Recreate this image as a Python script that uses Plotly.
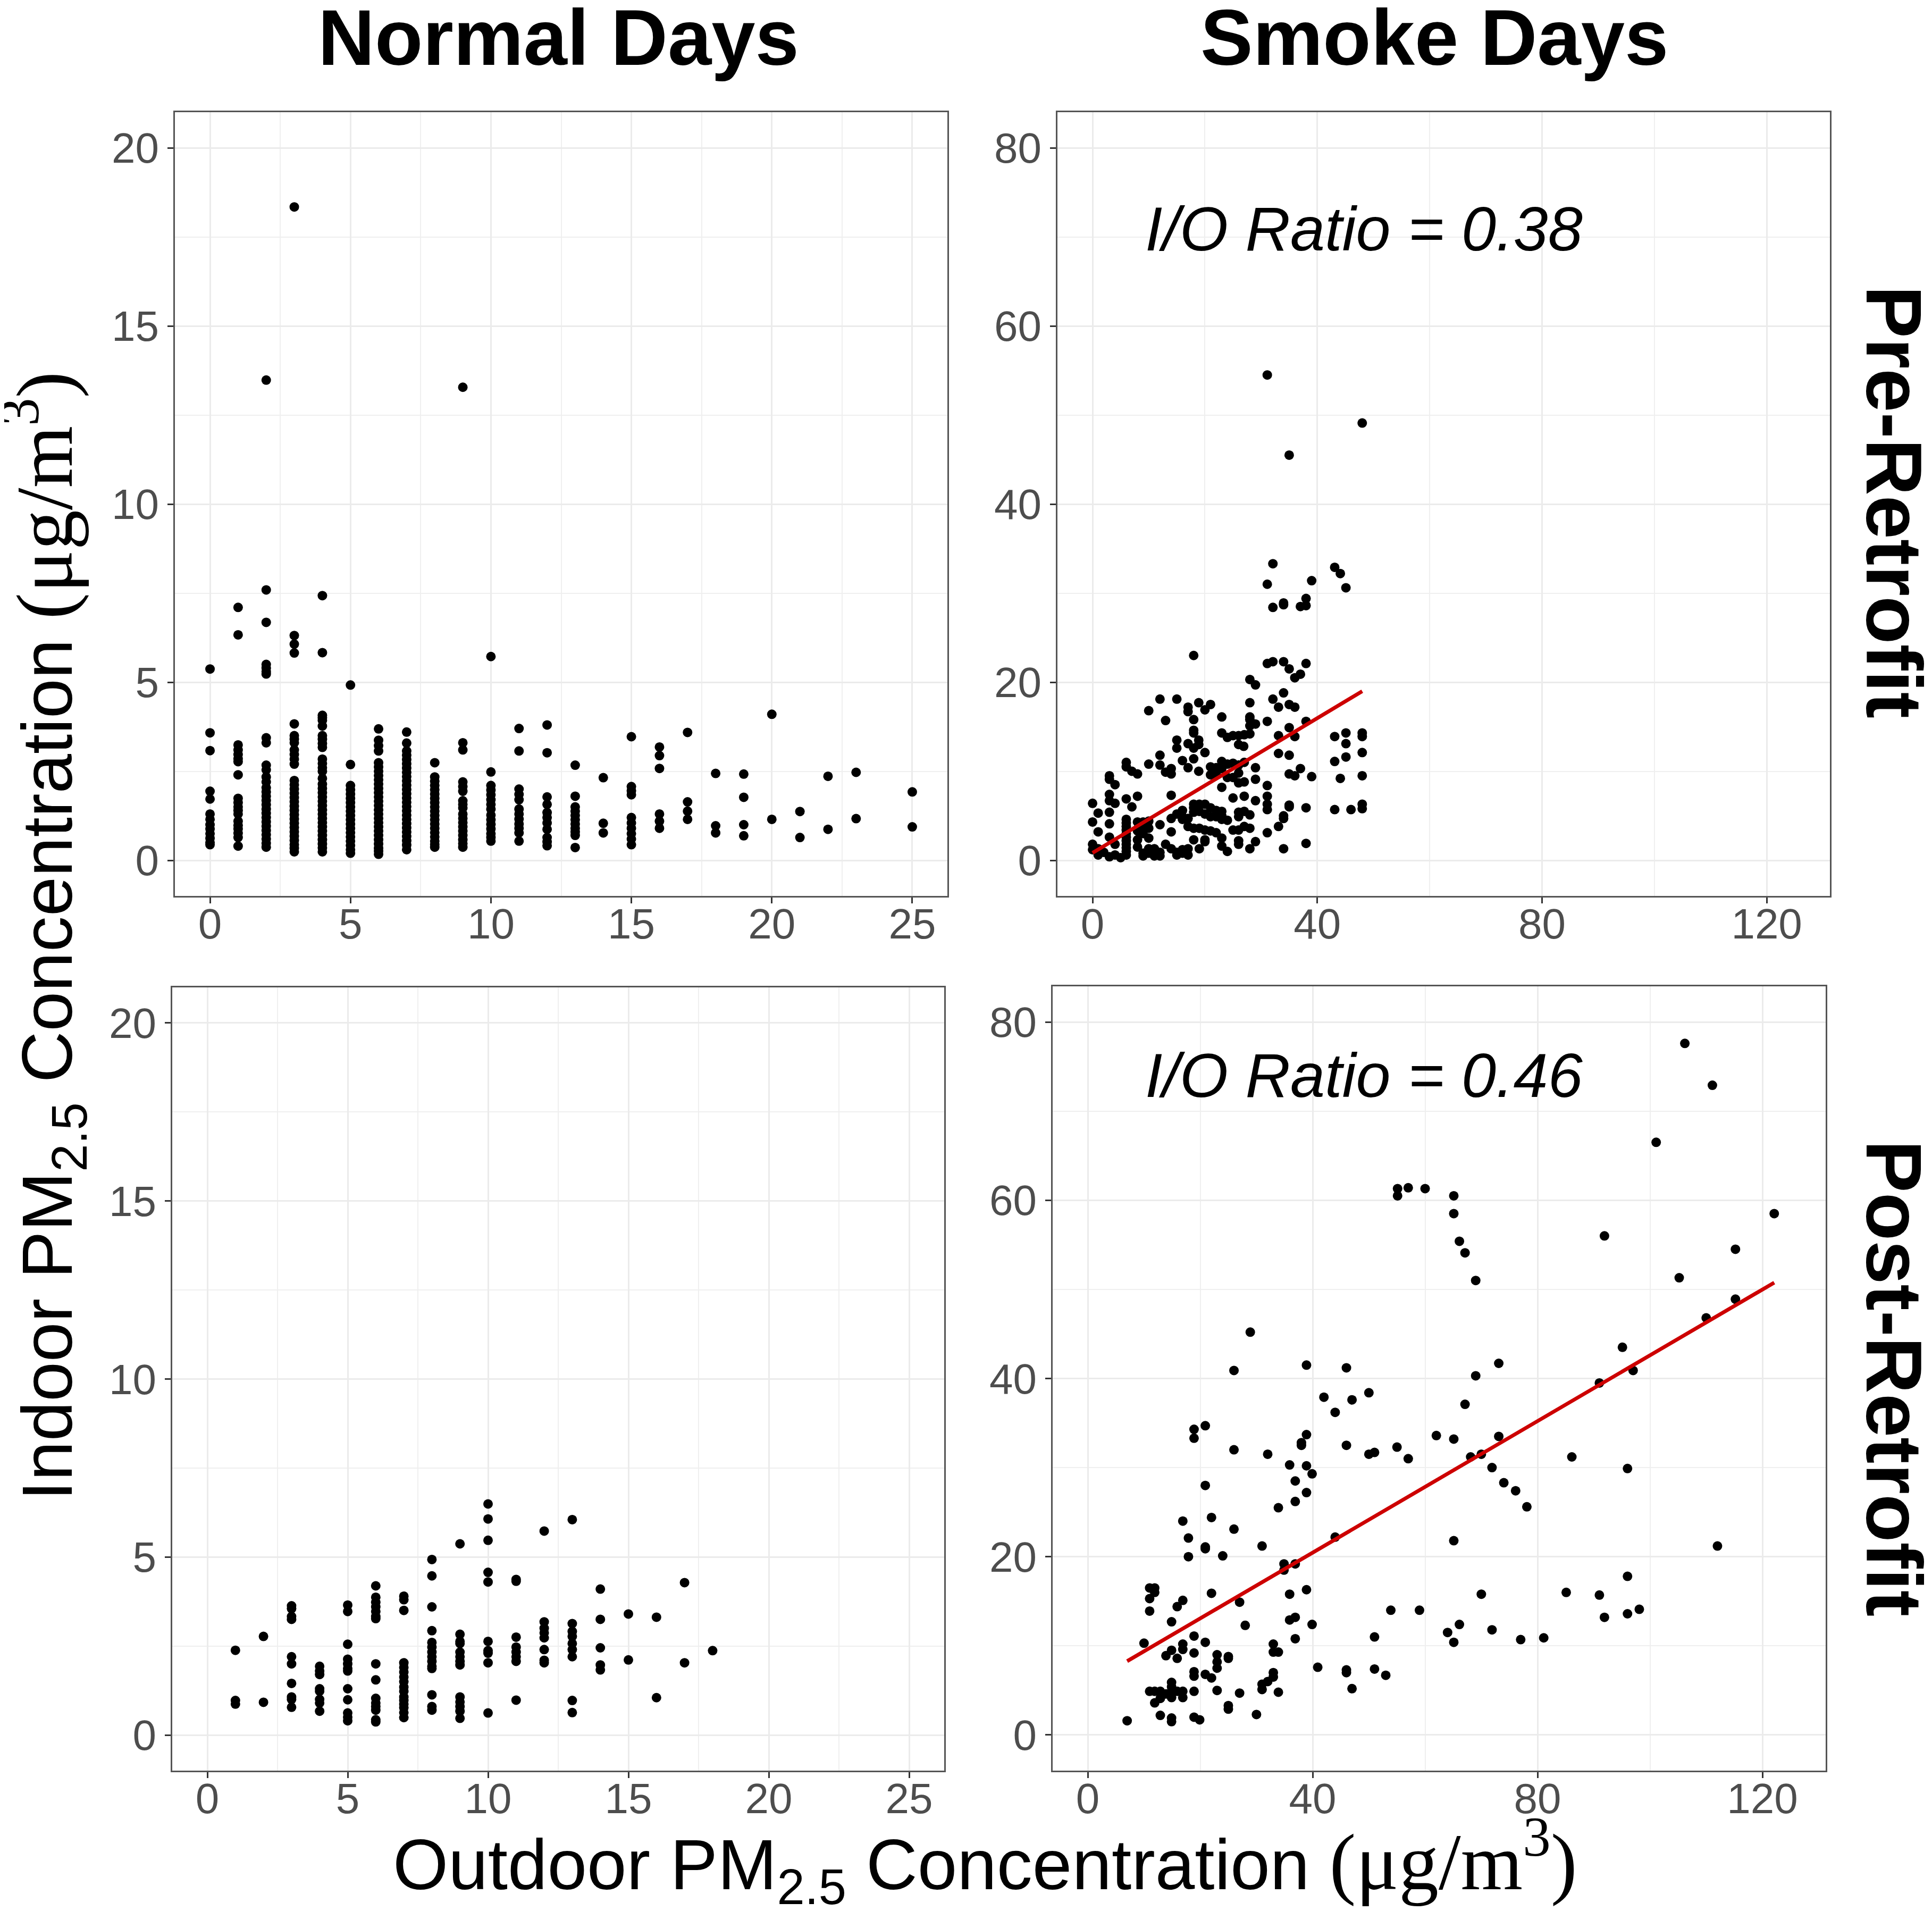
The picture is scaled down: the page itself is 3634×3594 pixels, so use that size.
import plotly.graph_objects as go

W, H = 3634, 3594

# ---------------- data ----------------
# Normal days, pre-retrofit: outdoor value -> indoor values
pre_normal = {
    0: [5.37, 3.58, 3.08, 1.94, 1.72, 1.30, 1.15, 1.0, 0.88, 0.75, 0.62, 0.5, 0.44],
    1: [7.10, 6.33, 3.24, 3.10, 2.97, 2.85, 2.77, 2.40, 1.74, 1.62, 1.50, 1.40, 1.30, 1.10, 0.98, 0.88, 0.76, 0.64, 0.40],
    2: [13.48, 7.59, 6.68, 5.50, 5.40, 5.30, 5.23, 3.44, 3.30, 2.67, 2.54, 2.34, 2.20, 2.04, 1.92, 1.80, 1.68, 1.56,
        1.44, 1.32, 1.20, 1.08, 0.96, 0.84, 0.72, 0.60, 0.48, 0.37],
    3: [18.34, 6.31, 6.07, 5.82, 3.83, 3.50, 3.40, 3.30, 3.10, 2.97, 2.84, 2.70, 2.24, 2.12, 2.0, 1.88, 1.76, 1.64,
        1.52, 1.40, 1.28, 1.16, 1.04, 0.92, 0.80, 0.68, 0.56, 0.44, 0.34, 0.24],
    4: [7.43, 5.83, 4.07, 4.00, 3.93, 3.77, 3.50, 3.40, 3.28, 3.17, 2.84, 2.72, 2.60, 2.50, 2.30, 2.14, 2.02, 1.90,
        1.78, 1.66, 1.54, 1.42, 1.30, 1.18, 1.06, 0.94, 0.82, 0.70, 0.58, 0.46, 0.35, 0.24],
    5: [4.92, 2.69, 2.10, 1.98, 1.86, 1.74, 1.62, 1.50, 1.38, 1.26, 1.14, 1.02, 0.90, 0.78, 0.66, 0.54, 0.42, 0.30, 0.20],
    6: [3.69, 3.37, 3.22, 3.07, 2.74, 2.62, 2.50, 2.38, 2.26, 2.14, 2.02, 1.90, 1.78, 1.66, 1.54, 1.42, 1.30, 1.18,
        1.06, 0.94, 0.82, 0.70, 0.58, 0.46, 0.34, 0.26, 0.17],
    7: [3.60, 3.29, 3.07, 2.95, 2.83, 2.71, 2.59, 2.47, 2.35, 2.23, 2.11, 1.99, 1.87, 1.75, 1.63, 1.51, 1.39, 1.27,
        1.15, 1.03, 0.91, 0.79, 0.67, 0.55, 0.43, 0.30],
    8: [2.74, 2.34, 2.22, 2.10, 1.98, 1.86, 1.74, 1.62, 1.50, 1.38, 1.26, 1.14, 1.02, 0.90, 0.78, 0.66, 0.54, 0.45, 0.37],
    9: [13.28, 3.30, 3.10, 2.20, 2.07, 1.94, 1.67, 1.57, 1.47, 1.30, 1.18, 1.06, 0.94, 0.82, 0.70, 0.58, 0.47, 0.37],
    10: [5.72, 2.48, 2.10, 1.97, 1.84, 1.70, 1.57, 1.44, 1.27, 1.14, 1.01, 0.88, 0.75, 0.64, 0.54],
    11: [3.70, 3.07, 2.00, 1.85, 1.70, 1.44, 1.30, 1.16, 1.02, 0.90, 0.77, 0.54],
    12: [3.80, 3.02, 1.78, 1.57, 1.34, 1.20, 1.05, 0.87, 0.64, 0.52, 0.41],
    13: [2.67, 1.80, 1.50, 1.38, 1.26, 1.14, 1.02, 0.90, 0.80, 0.70, 0.36],
    14: [2.32, 1.04, 0.77],
    15: [3.47, 2.07, 1.95, 1.84, 1.20, 1.05, 0.90, 0.75, 0.60, 0.44],
    16: [3.18, 2.94, 2.58, 1.30, 1.10, 0.90],
    17: [3.59, 1.64, 1.38, 1.15],
    18: [2.44, 0.97, 0.77],
    19: [2.42, 1.77, 1.00, 0.69],
    20: [4.10, 1.15],
    21: [1.37, 0.64],
    22: [2.36, 0.87],
    23: [2.47, 1.17],
    25: [1.92, 0.94],
}

# Normal days, post-retrofit
post_normal = {
    1: [2.38, 0.97, 0.87],
    2: [2.77, 0.92],
    3: [3.63, 3.55, 3.33, 3.25, 2.20, 2.00, 1.45, 1.07, 1.00, 0.78],
    4: [1.93, 1.80, 1.70, 1.30, 1.23, 1.00, 0.90, 0.67],
    5: [3.65, 3.47, 2.55, 2.13, 2.00, 1.87, 1.80, 1.30, 0.99, 0.62, 0.50, 0.40],
    6: [4.19, 3.87, 3.73, 3.60, 3.47, 3.33, 3.27, 2.00, 1.55, 1.03, 0.90, 0.80, 0.70, 0.43, 0.37],
    7: [3.90, 3.80, 3.50, 2.03, 1.90, 1.77, 1.63, 1.50, 1.35, 1.23, 1.07, 0.97, 0.87, 0.77, 0.63, 0.49],
    8: [4.93, 4.47, 3.60, 2.93, 2.60, 2.47, 2.33, 2.20, 2.07, 1.93, 1.87, 1.13, 0.80, 0.70],
    9: [5.37, 2.83, 2.63, 2.57, 2.33, 2.20, 2.07, 1.97, 1.07, 0.93, 0.80, 0.67, 0.47],
    10: [6.49, 6.07, 5.47, 4.57, 4.30, 2.63, 2.37, 2.30, 2.03, 0.62],
    11: [4.37, 4.32, 2.75, 2.47, 2.33, 2.20, 2.07, 0.98],
    12: [5.73, 3.18, 3.00, 2.87, 2.73, 2.40, 2.10, 2.03],
    13: [6.05, 3.13, 2.91, 2.77, 2.57, 2.40, 2.20, 0.97, 0.63],
    14: [4.10, 3.25, 2.45, 1.97, 1.83],
    15: [3.40, 2.11],
    16: [3.31, 1.05],
    17: [4.28, 2.03],
    18: [2.37],
}

# Smoke days, pre-retrofit: (outdoor, indoor)
pre_smoke = [
    (31.1, 54.5), (48.0, 49.1), (35.0, 45.5), (32.1, 33.3), (31.1, 31.0), (43.1, 32.9), (44.1, 32.2), (45.1, 30.6),
    (39.0, 31.4), (32.1, 28.4), (34.0, 28.9), (34.0, 28.7), (37.0, 28.5), (38.0, 28.6), (38.0, 29.4), (18.0, 23.0),
    (31.1, 22.1), (32.1, 22.3), (34.0, 22.3), (35.0, 21.5), (36.0, 20.5), (37.0, 20.9), (38.0, 22.1), (28.0, 20.3),
    (29.0, 19.7), (34.0, 18.8), (32.1, 18.1), (33.1, 17.2), (35.0, 17.5), (36.0, 17.2), (28.0, 17.7), (28.0, 16.1),
    (28.0, 15.8), (29.0, 15.3), (28.0, 15.1), (31.1, 15.6), (38.0, 15.6), (33.1, 14.0), (35.0, 14.9), (36.0, 13.9),
    (33.1, 12.0), (35.0, 11.8), (35.0, 9.7), (36.0, 9.5), (37.0, 10.3), (39.0, 9.4), (31.1, 8.4), (31.1, 7.2),
    (31.1, 6.3), (31.1, 5.7), (35.0, 6.2), (35.0, 6.0), (38.0, 5.9), (34.0, 4.7), (34.0, 5.0), (33.1, 3.8),
    (31.1, 3.1), (34.0, 1.3), (38.0, 1.9), (43.1, 13.9), (43.1, 11.1), (43.1, 5.7), (44.1, 9.2), (45.1, 14.3),
    (45.1, 13.1), (45.1, 11.6), (46.0, 5.7), (48.0, 14.3), (48.0, 13.9), (48.0, 12.1), (48.0, 9.5), (48.0, 6.3),
    (48.0, 5.8), (12.0, 18.1), (15.0, 18.1), (10.0, 16.8), (13.0, 15.7), (17.0, 17.2), (17.0, 16.7), (18.9, 17.7),
    (20.0, 16.9), (21.0, 17.5), (18.0, 15.8), (23.0, 16.1), (18.0, 14.6), (18.0, 14.3), (23.0, 14.3), (24.0, 13.8),
    (25.0, 14.0), (26.0, 14.0), (27.0, 14.1), (28.0, 14.2), (15.0, 13.5), (15.0, 12.6), (17.0, 13.1), (18.0, 12.6),
    (18.9, 13.5), (18.9, 13.0), (26.0, 13.0), (26.9, 12.8), (20.0, 12.1), (12.0, 11.8), (12.0, 10.7), (16.0, 11.2),
    (18.0, 11.4), (17.0, 10.4), (18.9, 10.0), (14.0, 10.3), (13.0, 9.9), (14.0, 9.7), (10.0, 10.8), (6.0, 11.0),
    (6.0, 10.5), (7.0, 10.0), (8.0, 9.7), (21.0, 10.5), (22.0, 10.4), (23.0, 11.1), (24.0, 10.8), (25.0, 10.9),
    (21.0, 9.6), (22.0, 9.6), (23.0, 10.3), (24.0, 9.3), (25.0, 9.3), (26.0, 10.7), (27.0, 11.0), (29.0, 10.4),
    (26.0, 9.8), (27.0, 8.8), (29.0, 9.1), (23.0, 8.2), (25.0, 7.0), (26.0, 8.7), (27.0, 7.2), (29.0, 6.7),
    (3.0, 9.5), (3.0, 9.1), (4.0, 8.5), (3.0, 7.4), (3.0, 6.7), (4.0, 6.4), (3.0, 5.4), (6.0, 6.9), (7.0, 6.0),
    (8.0, 7.2), (14.0, 7.3), (0.0, 6.4), (0.0, 4.3), (0.0, 1.8), (0.0, 1.2), (1.0, 5.3), (1.0, 3.2), (3.0, 4.1),
    (3.0, 2.6), (4.0, 1.8), (1.0, 1.3), (1.0, 0.6), (2.0, 0.9), (3.0, 0.4), (4.0, 0.6), (5.0, 0.3),
    (6.0, 4.6), (6.0, 4.2), (6.0, 3.8), (6.0, 3.4), (6.0, 3.0), (6.0, 2.6), (6.0, 2.2), (6.0, 1.8), (6.0, 1.4),
    (6.0, 1.0), (6.0, 0.6), (8.0, 4.3), (8.0, 3.3), (8.0, 2.3), (8.0, 1.5), (9.0, 4.3), (9.0, 3.8), (9.0, 3.0),
    (9.0, 0.8), (9.0, 0.5), (10.0, 4.4), (10.0, 3.6), (10.0, 2.5), (10.0, 1.3), (10.0, 0.8), (11.0, 1.3),
    (11.0, 0.5), (12.0, 4.0), (12.0, 0.9), (12.0, 0.5), (13.0, 1.8), (14.0, 1.3), (15.0, 0.9), (16.0, 1.2),
    (17.0, 1.3), (15.0, 0.6), (16.0, 0.8), (17.0, 0.6), (14.0, 4.7), (14.0, 3.2), (15.0, 5.2), (16.0, 4.9),
    (17.0, 4.7), (16.0, 5.6), (16.0, 4.6), (18.0, 6.3), (18.0, 5.9), (19.0, 6.3), (20.0, 6.3), (21.0, 5.9),
    (22.0, 5.6), (23.0, 5.5), (18.0, 5.4), (19.0, 5.5), (20.0, 5.2), (21.0, 4.9), (22.0, 4.9), (23.0, 4.6),
    (17.0, 3.8), (18.0, 3.6), (19.0, 3.6), (20.0, 3.4), (21.0, 3.3), (22.0, 3.1), (24.0, 4.5), (23.0, 5.0),
    (18.0, 2.3), (20.0, 2.1), (20.0, 2.3), (19.0, 1.3), (23.0, 2.5), (23.0, 1.6), (24.0, 1.0), (25.0, 3.4),
    (26.0, 3.4), (27.0, 3.8), (28.0, 3.6), (26.0, 5.4), (26.0, 4.9), (27.0, 5.5), (28.0, 5.1), (26.0, 2.2),
    (26.0, 1.8), (28.0, 1.3), (29.0, 2.1),
]

# Smoke days, post-retrofit: (outdoor, indoor)
post_smoke = [
    (106.2, 77.6), (111.1, 72.9), (101.1, 66.5), (122.1, 58.5), (55.1, 61.3), (55.1, 60.5), (57.0, 61.4),
    (60.0, 61.3), (65.1, 60.5), (65.1, 58.5), (66.1, 55.4), (67.1, 54.1), (69.0, 51.0), (91.9, 56.0),
    (115.2, 54.5), (105.2, 51.3), (115.2, 48.9), (110.0, 46.8), (95.1, 43.5), (97.0, 40.9), (91.0, 39.5),
    (73.1, 41.7), (69.0, 40.3), (67.1, 37.1), (28.9, 45.2), (26.0, 40.9), (38.9, 41.5), (46.0, 41.2),
    (42.0, 37.9), (47.0, 37.6), (50.0, 38.4), (44.0, 36.2), (62.0, 33.6), (65.1, 33.2), (73.1, 33.5),
    (18.9, 34.3), (18.9, 33.3), (20.9, 34.7), (26.0, 32.0), (46.0, 32.5), (55.0, 32.3), (57.0, 31.0),
    (32.0, 31.5), (50.0, 31.5), (51.0, 31.7), (68.1, 31.2), (70.0, 31.5), (86.1, 31.2), (71.9, 30.0),
    (96.0, 29.9), (74.0, 28.3), (76.1, 27.4), (78.1, 25.6), (38.0, 32.5), (38.0, 32.8), (38.9, 33.7),
    (35.9, 30.3), (38.9, 30.2), (39.9, 29.3), (36.9, 28.5), (38.9, 27.2), (36.9, 26.2), (33.9, 25.5),
    (20.9, 28.0), (22.0, 24.4), (16.9, 24.0), (17.9, 22.1), (17.9, 20.0), (20.9, 21.1), (20.9, 20.9),
    (24.0, 20.1), (26.0, 23.1), (31.0, 21.2), (44.0, 22.2), (34.9, 19.2), (34.9, 18.5), (36.9, 19.2),
    (65.1, 21.8), (38.9, 16.3), (35.9, 15.8), (22.0, 15.9), (27.0, 14.9), (11.0, 16.5), (11.9, 16.5),
    (11.9, 16.0), (11.0, 15.3), (11.0, 13.9), (16.9, 15.1), (15.9, 14.4), (14.9, 12.7), (28.0, 12.3),
    (35.9, 12.9), (36.9, 13.2), (39.9, 12.4), (36.9, 10.8), (70.0, 15.8), (53.9, 14.0), (59.0, 14.0),
    (64.0, 11.5), (65.1, 10.4), (66.1, 12.4), (71.9, 11.8), (77.0, 10.7), (81.1, 10.9), (85.1, 16.0),
    (91.0, 15.7), (91.9, 13.2), (96.0, 17.8), (96.0, 13.6), (98.1, 14.1), (112.0, 21.2), (51.0, 11.0),
    (10.0, 10.3), (13.9, 8.9), (14.9, 9.5), (16.9, 10.2), (16.9, 9.6), (15.9, 8.6), (18.9, 11.1), (18.9, 9.2),
    (20.9, 10.4), (23.0, 9.0), (25.0, 8.8), (25.0, 8.6), (23.0, 8.2), (23.0, 7.5), (18.9, 7.1), (18.9, 6.6),
    (20.9, 6.8), (22.0, 6.4), (23.0, 5.0), (18.9, 4.9), (33.0, 10.2), (33.0, 9.3), (33.9, 9.3), (33.0, 7.0),
    (33.0, 6.5), (32.0, 6.0), (31.0, 5.7), (31.0, 5.1), (33.9, 4.8), (27.0, 4.7), (25.0, 3.3), (25.0, 2.9),
    (30.0, 2.3), (40.9, 7.6), (46.0, 7.3), (46.0, 7.0), (47.0, 5.2), (51.0, 7.4), (53.0, 6.7), (11.0, 4.9),
    (11.9, 4.9), (12.9, 4.9), (13.9, 4.6), (14.9, 4.9), (15.9, 4.9), (16.9, 4.9), (11.9, 3.6), (12.9, 4.1),
    (14.9, 5.9), (14.9, 5.4), (14.9, 4.2), (14.9, 4.7), (16.9, 4.2), (12.9, 2.2), (14.9, 1.9), (14.9, 1.5),
    (18.9, 2.0), (19.9, 1.7), (7.0, 1.6),
]

# Linear fits (intercept, slope, x-extent)
pre_fit = dict(intercept=0.84, slope=0.378, x=[0.0, 48.0])
post_fit = dict(intercept=5.7, slope=0.369, x=[7.0, 122.1])

col_titles = ["Normal Days", "Smoke Days"]
row_titles = ["Pre-Retrofit", "Post-Retrofit"]
ratio_labels = ["I/O Ratio = 0.38", "I/O Ratio = 0.46"]

normal_xticks = [0, 5, 10, 15, 20, 25]
normal_yticks = [0, 5, 10, 15, 20]
smoke_xticks = [0, 40, 80, 120]
smoke_yticks = [0, 20, 40, 60, 80]

# ---------------- figure ----------------
def flat(d):
    xs, ys = [], []
    for k, vals in d.items():
        for v in vals:
            xs.append(k)
            ys.append(v)
    return xs, ys

fig = go.Figure()
MS = 18
mk = dict(color="black", size=MS, line=dict(width=0))

x1, y1 = flat(pre_normal)
fig.add_trace(go.Scatter(x=x1, y=y1, mode="markers", marker=mk, xaxis="x", yaxis="y"))
x2 = [p[0] for p in pre_smoke]; y2 = [p[1] for p in pre_smoke]
fig.add_trace(go.Scatter(x=x2, y=y2, mode="markers", marker=mk, xaxis="x2", yaxis="y2"))
x3, y3 = flat(post_normal)
fig.add_trace(go.Scatter(x=x3, y=y3, mode="markers", marker=mk, xaxis="x3", yaxis="y3"))
x4 = [p[0] for p in post_smoke]; y4 = [p[1] for p in post_smoke]
fig.add_trace(go.Scatter(x=x4, y=y4, mode="markers", marker=mk, xaxis="x4", yaxis="y4"))

for fit, xa, ya in [(pre_fit, "x2", "y2"), (post_fit, "x4", "y4")]:
    fy = [fit["intercept"] + fit["slope"] * v for v in fit["x"]]
    fig.add_trace(go.Scatter(x=fit["x"], y=fy, mode="lines",
                             line=dict(color="#CD0000", width=7), xaxis=xa, yaxis=ya))

def px_dom_x(a, b):
    return [a / W, b / W]

def px_dom_y(top, bottom):
    return [1 - bottom / H, 1 - top / H]

tickfont = dict(family="Liberation Sans, Arial, sans-serif", size=80, color="#4D4D4D")
common = dict(showline=True, mirror=True, linecolor="#555555", linewidth=3,
              ticks="outside", ticklen=11, tickwidth=3, tickcolor="#333333",
              showgrid=True, gridcolor="#EBEBEB", gridwidth=3, zeroline=False,
              tickfont=tickfont)

def ax(rng, tv, minor_dt, dom, anchor, standoff):
    return dict(range=rng, tickvals=tv, domain=dom, anchor=anchor, ticklabelstandoff=standoff,
                minor=dict(dtick=minor_dt, tick0=0, showgrid=True, gridcolor="#EFEFEF", gridwidth=2, ticks=""),
                **common)

fig.update_layout(
    xaxis=ax([-1.25, 26.25], normal_xticks, 2.5, px_dom_x(321, 1774), "y", -30),
    yaxis=ax([-1, 21], normal_yticks, 2.5, px_dom_y(203, 1677), "x", 0),
    xaxis2=ax([-6.25, 131.25], smoke_xticks, 20, px_dom_x(1981, 3434), "y2", -30),
    yaxis2=ax([-4, 84], smoke_yticks, 10, px_dom_y(203, 1677), "x2", 0),
    xaxis3=ax([-1.25, 26.25], normal_xticks, 2.5, px_dom_x(316, 1768), "y3", -30),
    yaxis3=ax([-1, 21], normal_yticks, 2.5, px_dom_y(1849, 3322), "x3", 0),
    xaxis4=ax([-6.25, 131.25], smoke_xticks, 20, px_dom_x(1972, 3426), "y4", -30),
    yaxis4=ax([-4, 84], smoke_yticks, 10, px_dom_y(1847, 3322), "x4", 0),
)

strip_font = dict(family="Liberation Sans, Arial, sans-serif", size=148, color="black")
title_font = dict(family="Liberation Sans, Arial, sans-serif", size=134, color="black")
ann = []
for t, cx in zip(col_titles, [1042, 2690]):
    ann.append(dict(text="<b>%s</b>" % t, x=cx / W, y=1 - 62 / H, xref="paper", yref="paper",
                    xanchor="center", yanchor="middle", showarrow=False, font=strip_font))
for t, cy in zip(row_titles, [936, 2584]):
    ann.append(dict(text="<b>%s</b>" % t, x=3555 / W, y=1 - cy / H, xref="paper", yref="paper",
                    xanchor="center", yanchor="middle", textangle=90, showarrow=False, font=strip_font))
ann.append(dict(text=ratio_labels[0], x=48.3, y=70.9, xref="x2", yref="y2", xanchor="center", yanchor="middle",
                showarrow=False, font=dict(family="Liberation Sans, Arial, sans-serif", size=117, color="black",
                                           style="italic")))
ann.append(dict(text=ratio_labels[1], x=49.2, y=74.0, xref="x4", yref="y4", xanchor="center", yanchor="middle",
                showarrow=False, font=dict(family="Liberation Sans, Arial, sans-serif", size=117, color="black",
                                           style="italic")))
unit = ("<span style='font-family:Liberation Serif, Times New Roman, serif; font-size:150px'>"
        "(μg/m<sup>3</sup>)</span>")
ann.append(dict(text="Outdoor PM<sub>2.5</sub> Concentration " + unit, x=1845 / W, y=1 - 3490 / H,
                xref="paper", yref="paper", xanchor="center", yanchor="middle", showarrow=False, font=title_font))
ann.append(dict(text="Indoor PM<sub>2.5</sub> Concentration " + unit, x=72 / W, y=1 - 1752 / H,
                xref="paper", yref="paper", xanchor="center", yanchor="middle", textangle=-90,
                showarrow=False, font=title_font))

fig.update_layout(annotations=ann, width=W, height=H, margin=dict(l=0, r=0, t=0, b=0),
                  paper_bgcolor="white", plot_bgcolor="white", showlegend=False)

fig.write_html("out.html")
